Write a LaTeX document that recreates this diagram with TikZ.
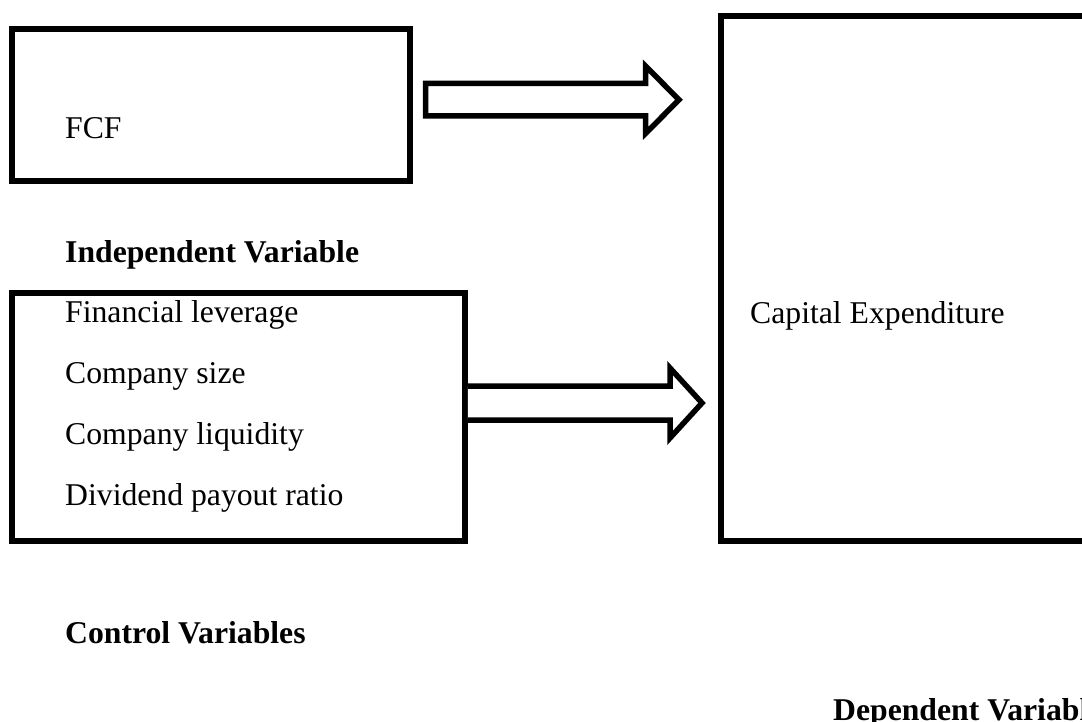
\documentclass[tikz,border=0pt]{standalone}
\usepackage{fontspec}
\setmainfont{Liberation Serif}
\begin{document}
\begin{tikzpicture}[x=1pt,y=-1pt,
  box/.style={draw=black,line width=5.5pt,inner sep=0pt,rectangle,fill=white},
  lbl/.style={anchor=base west,inner sep=0pt,font=\fontsize{31.7}{38}\selectfont},
  blbl/.style={lbl,font=\fontsize{31.7}{38}\selectfont\bfseries},
  blockarrow/.style={draw=black,line width=5.5pt,line join=miter,fill=white}]
\useasboundingbox (0,0) rectangle (1082,722);
\clip (0,0) rectangle (1082,722);
\fill[white] (0,0) rectangle (1082,722);
% boxes
\node[box,minimum width=398pt,minimum height=152pt] (fcf) at (211,105) {};
\node[box,minimum width=453pt,minimum height=248pt] (ctrl) at (238.5,417) {};
\node[box,minimum width=419pt,minimum height=525pt] (capex) at (930.5,278.5) {};
% texts
\node[lbl] (tfcf) at (65,139) {FCF};
\node[blbl] (tind) at (65,262) {Independent Variable};
\node[lbl] (t1) at (65,322) {Financial leverage};
\node[lbl] (t2) at (65,383) {Company size};
\node[lbl] (t3) at (65,444) {Company liquidity};
\node[lbl] (t4) at (65,505) {Dividend payout ratio};
\node[lbl] (tcap) at (750,323) {Capital Expenditure};
\node[blbl] (tctrl) at (65,643) {Control Variables};
\node[blbl] (tdep) at (833,720) {Dependent Variable};
% block arrows
\coordinate (a1s) at (425.5,99.75);
\coordinate (a1t) at (679,99.75);
\draw[blockarrow] (425.5,83.5) -- (645.5,83.5) -- (645.5,66) -- (a1t) -- (645.5,133.5) -- (645.5,116) -- (425.5,116) -- cycle;
\coordinate (a2s) at (ctrl.east |- 0,403);
\coordinate (a2t) at (702,403);
\draw[blockarrow] (a2s |- 0,386) -- (670,386) -- (670,368) -- (a2t) -- (670,438) -- (670,420) -- (a2s |- 0,420);
\end{tikzpicture}
\end{document}
